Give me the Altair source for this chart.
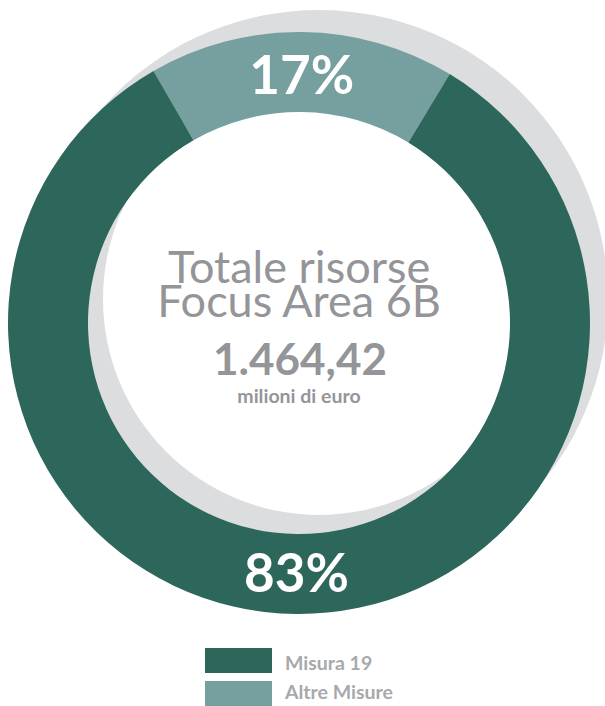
import math
import altair as alt
import pandas as pd

# ---- data ----
categories = ["Altre Misure", "Misura 19"]
shares = [17, 83]
labels = ["17%", "83%"]
legend_order = ["Misura 19", "Altre Misure"]
colors = ["#2D675C", "#76A09F"]
center_lines = ["Totale risorse", "Focus Area 6B"]
total_value = "1.464,42"
total_unit = "milioni di euro"

df = pd.DataFrame({"cat": categories, "share": shares, "label": labels, "ord": [0, 1]})

W, H = 605, 706
CX, CY = 299, 323
R_OUT, R_IN = 291, 211
start = math.radians(-30)
theta_scale = alt.Scale(domain=[0, 100], range=[start, start + 2 * math.pi])
color_scale = alt.Scale(domain=legend_order, range=colors)

base = alt.Chart(df)

shadow = alt.Chart(pd.DataFrame({"k": [0]})).mark_arc(
    theta=0, theta2=2 * math.pi, innerRadius=216, outerRadius=289, color="#DCDDDF"
).encode(x=alt.value(319), y=alt.value(299))

ring = base.mark_arc(innerRadius=R_IN, outerRadius=R_OUT, stroke=None).encode(
    theta=alt.Theta("share:Q", stack=True, scale=theta_scale),
    order=alt.Order("ord:Q"),
    color=alt.Color("cat:N", scale=color_scale, legend=None),
    x=alt.value(CX),
    y=alt.value(CY),
)

pct = base.mark_text(
    radius=249, dy=4, font="Lato", fontWeight="bold", fontSize=53, color="white",
    baseline="middle", align="center"
).encode(
    theta=alt.Theta("share:Q", stack=True, scale=theta_scale),
    order=alt.Order("ord:Q"),
    text="label:N",
    x=alt.value(CX),
    y=alt.value(CY),
)

lines_df = pd.DataFrame({"t": center_lines, "i": [0, 1]})
title_txt = alt.Chart(lines_df).mark_text(
    font="Lato", fontWeight="normal", fontSize=45, color="#939598", align="center", baseline="alphabetic"
).encode(
    text="t:N",
    x=alt.value(299),
    y=alt.Y("i:Q", scale=alt.Scale(domain=[0, 1], range=[283, 317]), axis=None),
)

value_txt = alt.Chart(pd.DataFrame({"t": [total_value]})).mark_text(
    font="Lato", fontWeight="bold", fontSize=44, color="#939598", align="center", baseline="alphabetic"
).encode(text="t:N", x=alt.value(300), y=alt.value(375))

unit_txt = alt.Chart(pd.DataFrame({"t": [total_unit]})).mark_text(
    font="Lato", fontWeight="bold", fontSize=19.5, color="#939598", align="center", baseline="alphabetic"
).encode(text="t:N", x=alt.value(299), y=alt.value(403))

# manual legend driven by the category / colour scales
leg_df = pd.DataFrame({"cat": legend_order})
leg_y = alt.Scale(domain=legend_order, range=[648, 706], paddingInner=8 / 33, paddingOuter=0)
leg_rect = alt.Chart(leg_df).mark_rect().encode(
    x=alt.value(205), x2=alt.value(272),
    y=alt.Y("cat:N", scale=leg_y, axis=None),
    color=alt.Color("cat:N", scale=color_scale, legend=None),
)
leg_text = alt.Chart(leg_df).mark_text(
    font="Lato", fontWeight="bold", fontSize=19.5, color="#A7A9AC", align="left", baseline="middle", dy=1
).encode(
    x=alt.value(285),
    y=alt.Y("cat:N", scale=leg_y, axis=None),
    text="cat:N",
)

chart = alt.layer(shadow, ring, pct, title_txt, value_txt, unit_txt, leg_rect, leg_text).resolve_scale(
    y="independent"
).properties(
    width=W, height=H, padding=0, autosize="none"
).configure_view(stroke=None)

chart.save("out.html", embed_options={"renderer": "svg", "actions": False})
